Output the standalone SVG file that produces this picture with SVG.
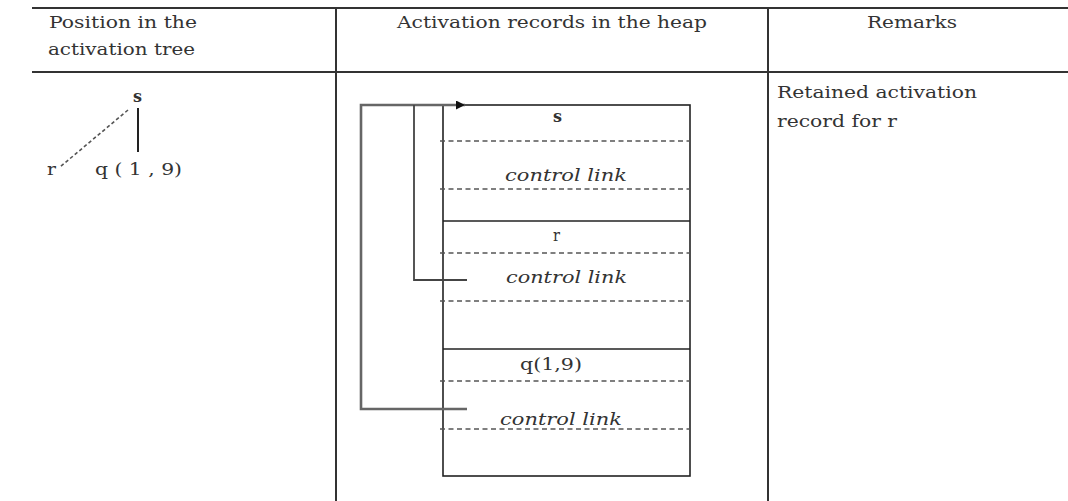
<svg xmlns="http://www.w3.org/2000/svg" width="1068" height="501" viewBox="0 0 1068 501">
<style>
  text { font-family: "DejaVu Serif", "Liberation Serif", serif; font-size: 17.5px; fill: #333; }
  .it { font-style: italic; }
  .b { font-weight: bold; }
  .grid { stroke: #333; stroke-width: 2; fill: none; }
  .box { stroke: #222; stroke-width: 1.6; fill: none; }
  .dash { stroke: #555; stroke-width: 1.3; stroke-dasharray: 5 3.5; fill: none; }
  .conn { stroke: #444; stroke-width: 1.8; fill: none; }
  .outer { stroke: #666; stroke-width: 2.6; }
</style>
<defs>
  <marker id="arr" viewBox="0 0 10 10" refX="10" refY="5" markerWidth="13" markerHeight="9" markerUnits="userSpaceOnUse" orient="auto">
    <path d="M0,0 L10,5 L0,10 z" fill="#111"/>
  </marker>
</defs>
<rect width="1068" height="501" fill="#fff"/>
<g id="table">
  <line class="grid" x1="32" y1="8" x2="1068" y2="8"/>
  <line class="grid" x1="32" y1="72" x2="1068" y2="72"/>
  <line class="grid" x1="336" y1="8" x2="336" y2="501"/>
  <line class="grid" x1="768" y1="8" x2="768" y2="501"/>
  <text x="49" y="28" textLength="148" lengthAdjust="spacingAndGlyphs">Position in the</text>
  <text x="48" y="55" textLength="147" lengthAdjust="spacingAndGlyphs">activation tree</text>
  <text x="397" y="28" textLength="310" lengthAdjust="spacingAndGlyphs">Activation records in the heap</text>
  <text x="867" y="28" textLength="90" lengthAdjust="spacingAndGlyphs">Remarks</text>
</g>
<g id="tree">
  <text class="b" x="133" y="102" textLength="9" lengthAdjust="spacingAndGlyphs">s</text>
  <line x1="138" y1="108" x2="138" y2="152" stroke="#222" stroke-width="2"/>
  <line x1="128" y1="110" x2="60" y2="167" stroke="#555" stroke-width="1.6" stroke-dasharray="3.5 2.5"/>
  <text x="47" y="175" textLength="9" lengthAdjust="spacingAndGlyphs">r</text>
  <text x="95" y="175" textLength="87" lengthAdjust="spacingAndGlyphs">q ( 1 , 9)</text>
</g>
<g id="heap">
  <rect class="box" x="443" y="105" width="247" height="371"/>
  <line class="box" x1="443" y1="221" x2="690" y2="221"/>
  <line class="box" x1="443" y1="349" x2="690" y2="349"/>
  <line class="dash" x1="440" y1="141" x2="690" y2="141"/>
  <line class="dash" x1="440" y1="189" x2="690" y2="189"/>
  <line class="dash" x1="440" y1="253" x2="690" y2="253"/>
  <line class="dash" x1="440" y1="301" x2="690" y2="301"/>
  <line class="dash" x1="440" y1="381" x2="690" y2="381"/>
  <line class="dash" x1="440" y1="429" x2="690" y2="429"/>
  <text class="b" x="553" y="122" textLength="9" lengthAdjust="spacingAndGlyphs">s</text>
  <text class="it" x="505" y="181" textLength="122" lengthAdjust="spacingAndGlyphs">control link</text>
  <text x="553" y="241" textLength="7" lengthAdjust="spacingAndGlyphs">r</text>
  <text class="it" x="506" y="283" textLength="121" lengthAdjust="spacingAndGlyphs">control link</text>
  <text x="520" y="370" textLength="62" lengthAdjust="spacingAndGlyphs">q(1,9)</text>
  <text class="it" x="500" y="425" textLength="122" lengthAdjust="spacingAndGlyphs">control link</text>
</g>
<g id="remarks">
  <text x="777" y="98" textLength="200" lengthAdjust="spacingAndGlyphs">Retained activation</text>
  <text x="777" y="127" textLength="120" lengthAdjust="spacingAndGlyphs">record for r</text>
</g>
<g id="connectors">
  <polyline class="conn outer" points="467,409 361,409 361,105 465,105" marker-end="url(#arr)"/>
  <polyline class="conn" points="467,280 414,280 414,105"/>
</g>
</svg>
